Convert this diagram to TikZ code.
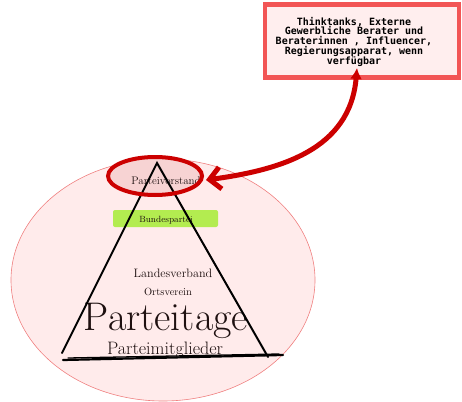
\documentclass[tikz,border=0pt]{standalone}
\usepackage{fontspec}
\newfontfamily\boxmono{DejaVu Sans Mono}
\usetikzlibrary{shapes.geometric,arrows.meta}
\definecolor{outerfill}{HTML}{FFEBEB}
\definecolor{outerline}{HTML}{F08080}
\definecolor{ringred}{HTML}{CC0000}
\definecolor{ringfill}{HTML}{F7D3D3}
\definecolor{greenbox}{HTML}{B3EC50}
\definecolor{boxline}{HTML}{F25555}
\definecolor{boxfill}{HTML}{FFEEEE}
\definecolor{inktext}{HTML}{1E1010}
\tikzset{
  lvl/.style={inner sep=0pt, anchor=base, text=inktext},
  tri/.style={line width=2pt, black, line cap=round},
  ringbg/.style={ellipse, minimum width=94pt, minimum height=38pt, fill=ringfill, inner sep=0pt},
  ringline/.style={ellipse, minimum width=94pt, minimum height=38pt, draw=ringred, line width=4pt, inner sep=0pt},
  infobox/.style={draw=boxline, fill=boxfill, line width=4.5pt, minimum width=194pt, minimum height=73pt, inner sep=0pt},
  bigarrow/.style={draw=ringred, line width=5pt, line cap=round}
}
\begin{document}
\begin{tikzpicture}[x=1pt,y=-1pt]
\useasboundingbox (0,0) rectangle (462,401);
% big ellipse
\node[ellipse, draw=outerline, fill=outerfill, line width=0.6pt, minimum width=304pt, minimum height=242pt, inner sep=0pt] (outer) at (163,280) {};
% green box
\node[fill=greenbox, rounded corners=2pt, minimum width=105pt, minimum height=17pt, inner sep=0pt] (bundbox) at (165.5,218.5) {};
% ring fill
\node[ringbg] (ring) at (155,176) {};
% texts
\node[lvl, font=\fontsize{11}{13}\selectfont] (vorstand) at (166,184) {Parteivorstand};
\node[lvl, font=\fontsize{9}{11}\selectfont] (bund) at (166,222) {Bundespartei};
\node[lvl, font=\fontsize{12.2}{14}\selectfont] (landes) at (173,277) {Landesverband};
\node[lvl, font=\fontsize{10.5}{12}\selectfont] (orts) at (168,295) {Ortsverein};
\node[lvl, font=\fontsize{40}{42}\selectfont] (tage) at (166,330) {Parteitage};
\node[lvl, font=\fontsize{18}{20}\selectfont] (mitglieder) at (165,354) {Parteimitglieder};
% triangle
\coordinate (apex) at (157,163);
\coordinate (lfoot) at (62,353);
\coordinate (rfoot) at (268,357);
\coordinate (bl) at (63,360);
\coordinate (br) at (283,355);
\coordinate (bl2) at (68,358);
\coordinate (br2) at (279,354);
\draw[tri] (lfoot) -- (apex) -- (rfoot);
\draw[tri, line width=2.2pt] (bl) -- (br);
\draw[tri, line width=1.3pt] (bl2) -- (br2);
% ring stroke
\node[ringline] (ringedge) at (ring.center) {};
% info box
\node[infobox] (info) at (362,41) {};
\node[inner sep=0pt, align=center, font=\boxmono\bfseries\fontsize{10}{9.7}\selectfont, text=black] (infotext) at (354,42) {Thinktanks, Externe\\Gewerbliche Berater und\\Beraterinnen , Influencer,\\Regierungsapparat, wenn\\verfügbar};
% arrow
\coordinate (atop) at (357,68);
\coordinate (aend) at (206,180);
\draw[bigarrow, {Latex[length=11pt,width=12pt]}-{Straight Barb[length=11pt,width=22pt]}] (atop) .. controls (350,150) and (280,170) .. (aend);
\end{tikzpicture}
\end{document}
